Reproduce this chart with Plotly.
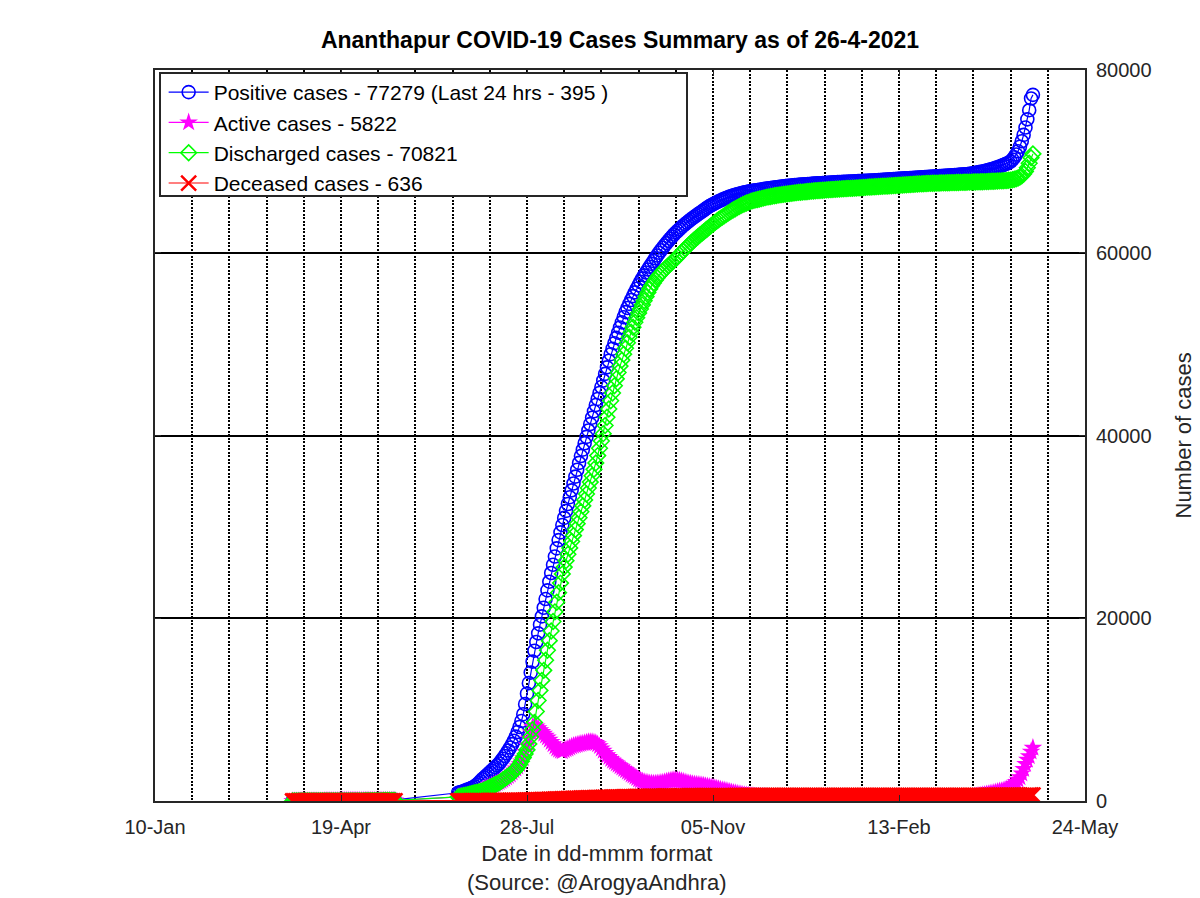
import pandas as pd
import plotly.graph_objects as go

# two reporting periods (data missing between them)
early_start, early_end = "2020-03-24", "2020-05-18"
main_start, main_end = "2020-06-21", "2021-04-26"

tick_dates = ["2020-01-10", "2020-04-19", "2020-07-28", "2020-11-05", "2021-02-13", "2021-05-24"]
tick_labels = ["10-Jan", "19-Apr", "28-Jul", "05-Nov", "13-Feb", "24-May"]
y_ticks = [0, 20000, 40000, 60000, 80000]

positive_early = [
    0, 0, 0, 0, 0, 2, 2, 2,
    2, 2, 3, 3, 3, 6, 6, 6, 8, 12, 15, 15, 18, 21, 24, 28, 31, 34, 40, 46,
    50, 53, 56, 58, 61, 61, 63, 65, 66, 68,
    71, 72, 76, 78, 80, 84, 87, 90, 93, 96, 98, 101, 104, 108, 112, 115, 118, 122,
]
positive_main = [
    900, 960, 1020, 1090, 1160, 1240, 1320, 1410, 1500, 1600,
    1780, 1960, 2160, 2380, 2560, 2740, 2930, 3120, 3310, 3500, 3700, 3900, 4100, 4360, 4630, 4920,
    5220, 5530, 5860, 6220, 6600, 7050, 7550, 8100, 8750, 9500, 10600, 11750, 12900, 14050, 15250,
    16450, 17400, 18350, 19300, 20200, 21150, 22100, 23050, 24000, 24950, 25850, 26750, 27650, 28550,
    29400, 30200, 30980, 31750, 32500, 33250, 34000, 34750, 35500, 36250, 37000, 37750, 38450, 39150,
    39850, 40550, 41250,
    41950, 42650, 43330, 44000, 44650, 45300, 46020, 46740, 47460, 48180, 48900, 49500, 50100, 50680,
    51250, 51820, 52380, 52940, 53500, 53950, 54400, 54830, 55250, 55660, 56060, 56450, 56830, 57200,
    57520, 57840,
    58160, 58470, 58780, 59090, 59400, 59700, 60000, 60270, 60540, 60800, 61050, 61300, 61540, 61770,
    62000, 62200, 62400, 62590, 62780, 62960, 63130, 63300, 63460, 63620, 63780, 63930, 64080, 64230,
    64370, 64510, 64650,
    64800, 64950, 65080, 65200, 65310, 65420, 65520, 65620, 65720, 65810, 65900, 65990, 66070, 66140,
    66210, 66280, 66340, 66400, 66460, 66510, 66560, 66610, 66650, 66690, 66730, 66770, 66810, 66840,
    66870, 66900,
    66930, 66960, 66990, 67020, 67050, 67080, 67110, 67140, 67170, 67200, 67225, 67250, 67275, 67300,
    67320, 67340, 67360, 67380, 67400, 67420, 67440, 67455, 67470, 67485, 67500, 67515, 67530, 67545,
    67560, 67575, 67590,
    67600, 67610, 67625, 67640, 67650, 67665, 67680, 67690, 67700, 67715, 67725, 67735, 67745, 67755,
    67765, 67775, 67785, 67795, 67805, 67815, 67825, 67835, 67845, 67855, 67865, 67875, 67885, 67895,
    67905, 67915, 67925,
    67940, 67953, 67966, 67979, 67992, 68005, 68018, 68031, 68044, 68057, 68070, 68083, 68096, 68109,
    68122, 68135, 68148, 68161, 68174, 68187, 68200, 68213, 68226, 68239, 68252, 68265, 68278, 68291,
    68304, 68317, 68330, 68343, 68356, 68370, 68384, 68398, 68412, 68426, 68440, 68455, 68470, 68485,
    68500, 68515, 68530, 68546, 68562, 68578, 68594, 68610, 68630, 68660, 68700, 68740, 68780, 68820,
    68860, 68900, 68950,
    69000, 69050, 69100, 69160, 69220, 69290, 69360, 69430, 69510, 69590, 69680, 69770, 69870, 69980,
    70200, 70450, 70750, 71100, 71600, 72200, 72900, 73700, 74600, 75600, 76884, 77279,
]

active_early = [
    0, 0, 0, 0, 0, 2, 2, 2,
    2, 2, 3, 3, 3, 5, 5, 5, 7, 11, 13, 13, 15, 18, 21, 25, 27, 29, 34, 40,
    43, 46, 47, 48, 49, 47, 47, 47, 46, 46,
    47, 46, 47, 46, 46, 46, 46, 46, 46, 46, 45, 45, 45, 46, 46, 46, 46, 46,
]
active_main = [
    442, 455, 465, 480, 495, 525, 555, 590, 635, 685,
    810, 940, 1090, 1250, 1340, 1420, 1500, 1590, 1680, 1770, 1870, 1960, 2060, 2170, 2290, 2420,
    2570, 2730, 2900, 3110, 3340, 3540, 3780, 4030, 4330, 4670, 5370, 6060, 6800, 7500, 8100,
    8300, 8150, 7950, 7750, 7550, 7350, 7150, 6950, 6700, 6450, 6200, 5950, 5750, 5600, 5500, 5450,
    5550, 5650, 5750, 5850, 5950, 6050, 6100, 6150, 6200, 6250, 6300, 6350, 6400, 6450, 6450,
    6450, 6400, 6350, 6200, 6000, 5750, 5500, 5250, 5000, 4800, 4600, 4400, 4250, 4100, 3950, 3800,
    3650, 3500, 3350, 3200, 3050, 2900, 2780, 2650, 2500, 2350, 2250, 2150, 2080, 2020,
    1980, 1950, 1930, 1920, 1920, 1930, 1950, 1980, 2020, 2070, 2120, 2170, 2220, 2260, 2290, 2300,
    2280, 2240, 2180, 2120, 2060, 2000, 1950, 1900, 1860, 1830, 1800, 1770, 1740, 1710, 1680,
    1640, 1600, 1560, 1510, 1460, 1410, 1360, 1310, 1260, 1210, 1160, 1110, 1060, 1010, 960, 910,
    860, 810, 770, 730, 690, 650, 620, 590, 560, 530, 510, 490, 470, 450,
    440, 430, 420, 410, 400, 390, 380, 370, 360, 350, 340, 330, 320, 310, 300, 295, 290, 285, 280,
    275, 270, 265, 260, 255, 250, 245, 240, 235, 230, 225, 220,
    215, 212, 209, 206, 203, 200, 197, 194, 191, 188, 185, 182, 179, 176, 173, 170, 167, 164, 161,
    158, 155, 152, 149, 146, 143, 140, 137, 134, 131, 128, 125,
    123, 121, 119, 117, 115, 114, 113, 112, 111, 110, 109, 108, 107, 106, 105, 106, 107, 108, 109,
    110, 111, 112, 113, 114, 115, 116, 118, 120,
    125, 130, 135, 140, 145, 150, 158, 166, 174, 182, 190, 200, 210, 220, 230, 242, 254, 266, 280,
    295, 315, 340, 370, 405, 445, 490, 530, 570, 610, 650, 690,
    730, 770, 810, 850, 900, 950, 1000, 1050, 1100, 1150, 1220, 1300, 1380, 1460, 1650, 1850, 2080,
    2320, 2600, 3000, 3500, 4050, 4500, 4900, 5400, 5822,
]

discharged_early = [
    0, 0, 0, 0, 0, 0, 0, 0,
    0, 0, 0, 0, 0, 0, 0, 0, 0, 0, 0, 0, 1, 1, 1, 1, 2, 2, 3, 3,
    4, 4, 5, 6, 8, 10, 12, 14, 16, 18,
    20, 22, 25, 28, 30, 33, 36, 39, 42, 45, 48, 51, 54, 57, 60, 63, 66, 70,
]
discharged_main = [
    450, 500, 550, 600, 650, 700, 750, 800, 850, 900,
    950, 1000, 1050, 1100, 1200, 1300, 1400, 1500, 1600, 1700, 1800, 1900, 2000, 2150, 2300, 2450,
    2600, 2750, 2900, 3050, 3200, 3450, 3700, 4000, 4350, 4750, 5150, 5600, 6250, 7000, 7800,
    8600, 9800, 11000, 12100, 13200, 14300, 15400, 16500, 17550, 18600, 19650, 20700, 21750, 22800,
    23850, 24850, 25600, 26300, 27000, 27700, 28400, 29050, 29700, 30350, 31000, 31650, 32300, 32950,
    33600, 34250, 34900,
    35600, 36300, 37000, 37800, 38600, 39400, 40200, 41100, 42000, 42900, 43800, 44650, 45450, 46200,
    46900, 47600, 48250, 48900, 49550, 50150, 50750, 51300, 51850, 52400, 52900, 53400, 53850, 54300,
    54750, 55200,
    55650, 56050, 56400, 56700, 57000, 57270, 57530, 57760, 57980, 58190, 58390, 58580, 58770, 58960,
    59150, 59350, 59560, 59780, 60000, 60220, 60440, 60650, 60850, 61040, 61230, 61420, 61600, 61780,
    61950, 62120, 62290,
    62460, 62630, 62800, 62970, 63140, 63300, 63460, 63610, 63760, 63900, 64040, 64180, 64320, 64450,
    64580, 64700, 64820, 64940, 65050, 65160, 65260, 65350, 65440, 65520, 65600, 65670, 65730, 65780,
    65830, 65880,
    65930, 65980, 66030, 66080, 66120, 66160, 66200, 66240, 66270, 66300, 66330, 66360, 66390, 66420,
    66450, 66475, 66500, 66525, 66550, 66575, 66600, 66620, 66640, 66660, 66680, 66700, 66720, 66740,
    66760, 66780, 66800,
    66815, 66830, 66845, 66860, 66875, 66890, 66905, 66920, 66935, 66950, 66965, 66980, 66995, 67010,
    67020, 67030, 67040, 67050, 67060, 67070, 67085, 67100, 67115, 67130, 67145, 67160, 67175, 67190,
    67200, 67210, 67220,
    67233, 67246, 67259, 67272, 67285, 67298, 67311, 67324, 67337, 67350, 67363, 67376, 67389, 67402,
    67415, 67428, 67441, 67454, 67467, 67480, 67493, 67506, 67519, 67532, 67545, 67555, 67565, 67575,
    67585, 67595, 67605, 67612, 67619, 67626, 67633, 67640, 67646, 67652, 67658, 67664, 67670, 67676,
    67682, 67688, 67694, 67700, 67706, 67712, 67718, 67724, 67730, 67736, 67742, 67748, 67754, 67760,
    67766, 67772, 67780,
    67790, 67800, 67810, 67820, 67830, 67840, 67850, 67860, 67870, 67880, 67895, 67910, 67930, 67950,
    67990, 68040, 68100, 68180, 68280, 68420, 68620, 68900, 69300, 69800, 70400, 70821,
]

deceased_early = [
    0, 0, 0, 0, 0, 0, 0, 0,
    0, 0, 0, 0, 0, 1, 1, 1, 1, 1, 2, 2, 2, 2, 2, 2, 2, 3, 3, 3,
    3, 3, 4, 4, 4, 4, 4, 4, 4, 4,
    4, 4, 4, 4, 4, 5, 5, 5, 5, 5, 5, 5, 5, 5, 6, 6, 6, 6,
]
deceased_main = [
    8, 9, 10, 11, 12, 12, 13, 13, 14, 15,
    16, 17, 18, 20, 22, 24, 26, 28, 30, 32, 34, 37, 40, 42, 44, 47, 50, 53, 56, 58, 60, 63, 66, 70,
    74, 78, 82, 86, 90, 95, 100,
    106, 114, 122, 130, 138, 146, 154, 162, 170, 178, 186, 194, 202, 210, 218, 226, 234, 242, 250,
    258, 266, 274, 282, 290, 298, 306, 313, 320, 327, 334, 341,
    347, 353, 359, 365, 371, 377, 383, 389, 395, 401, 406, 411, 416, 421, 426, 431, 436, 441, 446,
    451, 455, 459, 463, 467, 471, 475, 479, 483, 487, 491,
    494, 497, 500, 503, 506, 509, 512, 515, 518, 521, 523, 525, 527, 529, 531, 533, 535, 537, 539,
    541, 543, 545, 547, 549, 551, 553, 554, 555, 556, 557, 558,
    559, 560, 561, 562, 563, 564, 565, 566, 567, 568, 569, 570, 571, 572, 573, 574, 575, 576, 577,
    578, 579, 580, 580, 581, 581, 582, 582, 583, 583, 584,
    584, 585, 585, 585, 586, 586, 586, 587, 587, 587, 587, 588, 588, 588, 588, 589, 589, 589, 589,
    589, 590, 590, 590, 590, 590, 590, 591, 591, 591, 591, 591,
    591, 591, 591, 591, 592, 592, 592, 592, 592, 592, 592, 592, 592, 592, 593, 593, 593, 593, 593,
    593, 593, 593, 593, 593, 593, 593, 593, 593, 593, 593, 593,
    593, 593, 593, 593, 593, 593, 593, 593, 593, 593, 594, 594, 594, 594, 594, 594, 594, 594, 594,
    594, 594, 594, 594, 594, 594, 594, 594, 594,
    594, 594, 594, 594, 594, 595, 595, 595, 595, 595, 596, 596, 596, 596, 596, 597, 597, 597, 597,
    597, 598, 598, 598, 599, 599, 599, 600, 600, 600, 601, 601,
    602, 602, 603, 603, 604, 604, 605, 605, 606, 606, 607, 608, 609, 610, 611, 612, 614, 616, 618,
    620, 622, 625, 628, 631, 633, 636,
]

dates = list(pd.date_range(early_start, early_end)) + list(pd.date_range(main_start, main_end))

FONT = "Liberation Sans, Arial, sans-serif"
INK = "#262626"

series = [
    ("Positive cases - 77279 (Last 24 hrs - 395 )", positive_early + positive_main, "#0000FF",
     dict(symbol="circle-open", size=13, line=dict(width=1.6))),
    ("Active cases - 5822", active_early + active_main, "#FF00FF",
     dict(symbol="star", size=14)),
    ("Discharged cases - 70821", discharged_early + discharged_main, "#00FF00",
     dict(symbol="diamond-open", size=12, line=dict(width=1.6))),
    ("Deceased cases - 636", deceased_early + deceased_main, "#FF0000",
     dict(symbol="x-thin", size=15, line=dict(width=2.5, color="#FF0000"))),
]

fig = go.Figure()
for name, vals, color, marker in series:
    fig.add_trace(go.Scatter(x=dates, y=vals, name=name, mode="lines+markers",
                             line=dict(color=color, width=1.2),
                             marker=dict(color=color, **marker)))

grid_dash = "2px,1.5px"
fig.update_xaxes(type="date", range=[tick_dates[0], tick_dates[-1]],
                 tickvals=tick_dates, ticktext=tick_labels,
                 ticks="inside", ticklen=6, tickcolor=INK, ticklabelstandoff=7,
                 showline=True, linecolor=INK, linewidth=2, mirror="ticks",
                 showgrid=True, gridcolor="black", griddash=grid_dash, gridwidth=1.6,
                 minor=dict(dtick=20 * 86400000, tick0=tick_dates[0], showgrid=True,
                            gridcolor="black", griddash=grid_dash, gridwidth=1.6),
                 tickfont=dict(size=20, color=INK, family=FONT))
fig.update_yaxes(side="right", range=[0, 80000], tickvals=y_ticks,
                 ticktext=[str(v) for v in y_ticks],
                 ticks="inside", ticklen=6, tickcolor=INK, ticklabelstandoff=5,
                 showline=True, linecolor=INK, linewidth=2, mirror="ticks",
                 showgrid=True, gridcolor="black", gridwidth=1.6, zeroline=False,
                 tickfont=dict(size=20, color=INK, family=FONT))

# page body adds an 8px offset, so the figure is 8px smaller than the window
fig.update_layout(
    width=1192, height=890,
    margin=dict(l=147, r=115, t=62, b=97),
    paper_bgcolor="white", plot_bgcolor="white",
    font=dict(family=FONT, color=INK),
    title=dict(text="<b>Ananthapur COVID-19 Cases Summary as of 26-4-2021</b>",
               x=0.5, xref="paper", xanchor="center",
               y=1 - 32 / 890, yref="container", yanchor="middle",
               font=dict(size=23, color="black", family=FONT)),
    showlegend=True,
    legend=dict(x=0.0093, y=0.9973, xanchor="left", yanchor="top",
                bgcolor="rgba(0,0,0,0)", borderwidth=0,
                font=dict(size=21, color="black", family=FONT),
                itemwidth=40, traceorder="normal"),
    # wide legend frame (octave style); the legend itself sits on top of it
    shapes=[dict(type="rect", xref="paper", yref="paper", layer="above",
                 x0=(152 - 147) / 930, x1=(679 - 147) / 930,
                 y0=(793 - 188) / 731, y1=(793 - 65) / 731,
                 fillcolor="white", line=dict(color=INK, width=2))],
    annotations=[
        dict(text="Date in dd-mmm format<br>(Source: @ArogyaAndhra)",
             x=0.475, y=(793 - 860) / 731, xref="paper", yref="paper",
             xanchor="center", yanchor="middle", showarrow=False,
             font=dict(size=22, color=INK, family=FONT)),
        dict(text="Number of cases", textangle=-90,
             x=(1175 - 147) / 930, y=0.5, xref="paper", yref="paper",
             xanchor="center", yanchor="middle", showarrow=False,
             font=dict(size=22, color=INK, family=FONT)),
    ],
)

fig.write_html("out.html")
